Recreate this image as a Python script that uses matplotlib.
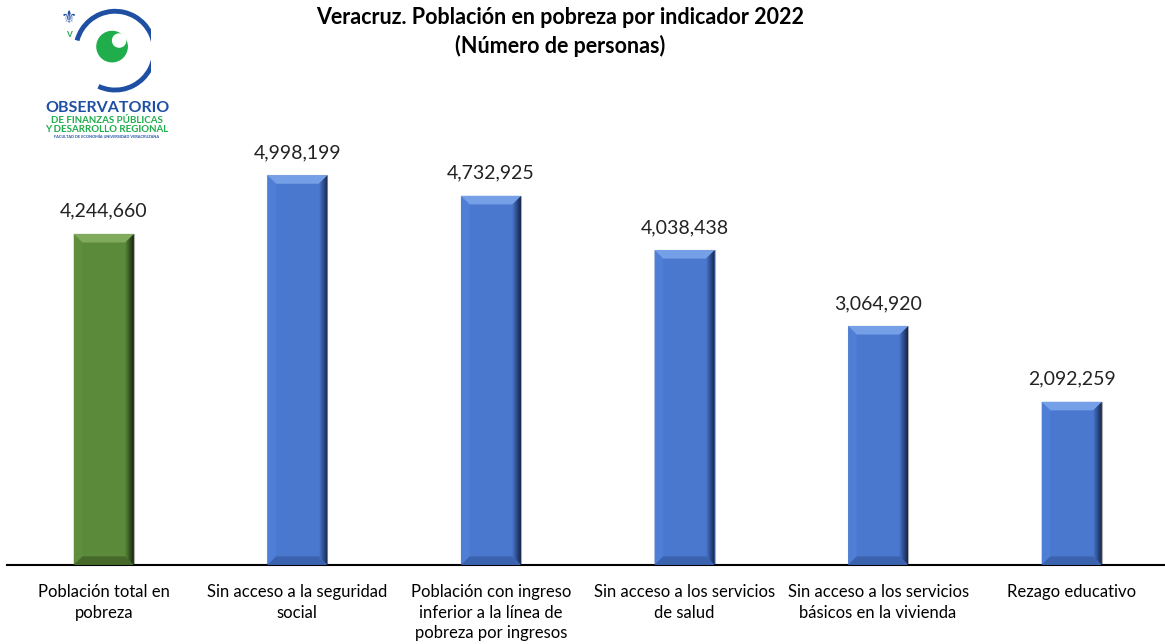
import numpy as np
import matplotlib.pyplot as plt
from matplotlib.patches import Polygon, Arc, Circle
from matplotlib.colors import LinearSegmentedColormap

plt.rcParams['font.family'] = ['Lato', 'DejaVu Sans']

categorias = ["Población total en\npobreza",
              "Sin acceso a la seguridad\nsocial",
              "Población con ingreso\ninferior a la línea de\npobreza por ingresos",
              "Sin acceso a los servicios\nde salud",
              "Sin acceso a los servicios\nbásicos en la vivienda",
              "Rezago educativo"]
valores = [4244660, 4998199, 4732925, 4038438, 3064920, 2092259]
colores = ["green", "blue", "blue", "blue", "blue", "blue"]

paleta = {
    "green": {"main": "#5b8a3a", "top": "#80aa5c", "left": "#5f8f3d", "right": "#16240c", "bottom": "#44692a"},
    "blue": {"main": "#4a78cf", "top": "#75a0e8", "left": "#4f7ed6", "right": "#15244a", "bottom": "#3a62ae"},
}

fig = plt.figure(figsize=(11.65, 6.44), dpi=100)
ax = fig.add_axes([0.006, 0.1227, 0.997, 0.7267])

x = np.arange(len(valores))
w = 0.31
bx = 0.045     # bevel width in data units
by = 110000    # bevel height in data units
grad = np.linspace(0, 1, 64).reshape(1, -1)

for xi, v, c in zip(x, valores, colores):
    p = paleta[c]
    l, r = xi - w / 2, xi + w / 2
    ax.bar(xi, v, width=w, color=p["main"], edgecolor="#b0b0b0", linewidth=0.8, zorder=2)
    ax.add_patch(Polygon([(l, 0), (l, v), (l + bx, v - by), (l + bx, by)], closed=True,
                         facecolor=p["left"], edgecolor="none", zorder=3))
    # right face with gradient to dark
    rf = Polygon([(r, 0), (r, v), (r - bx, v - by), (r - bx, by)], closed=True,
                 facecolor="none", edgecolor="none", zorder=3)
    ax.add_patch(rf)
    cm = LinearSegmentedColormap.from_list("g", [p["main"], p["right"]])
    im = ax.imshow(grad, cmap=cm, extent=[r - bx, r, 0, v], aspect="auto", zorder=3)
    im.set_clip_path(rf)
    ax.add_patch(Polygon([(l, 0), (r, 0), (r - bx, by), (l + bx, by)], closed=True,
                         facecolor=p["bottom"], edgecolor="none", zorder=4))
    ax.add_patch(Polygon([(l, v), (r, v), (r - bx, v - by), (l + bx, v - by)], closed=True,
                         facecolor=p["top"], edgecolor="none", zorder=4))
    ax.text(xi, v + 180000, f"{v:,}", ha="center", va="bottom", fontsize=14, color="#222222")

ax.set_xlim(-0.5, len(valores) - 0.5)
ax.set_ylim(0, 6000000)
ax.set_xticks(x)
ax.set_xticklabels(categorias, fontsize=12, linespacing=1.33)
ax.tick_params(axis="x", length=0, pad=14)
ax.set_yticks([])
for s in ["top", "right", "left"]:
    ax.spines[s].set_visible(False)
ax.spines["bottom"].set_linewidth(1.5)
ax.spines["bottom"].set_color("black")

fig.text(0.481, 0.973, "Veracruz. Población en pobreza por indicador 2022", ha="center", va="center",
         fontsize=15.5, fontweight="bold")
fig.text(0.481, 0.928, "(Número de personas)", ha="center", va="center",
         fontsize=15.5, fontweight="bold")

# logo
lg = fig.add_axes([0.0, 0.78, 0.13, 0.22])
lg.set_xlim(0, 150)
lg.set_ylim(140, 0)
lg.set_aspect("equal")
lg.axis("off")
lg.add_patch(Arc((114, 50), 78, 78, theta1=-165, theta2=115, color="#1f4fa3", linewidth=3.5))
lg.add_patch(Circle((111, 46), 15, color="#1fae4b"))
lg.add_patch(Circle((118, 40), 6.5, color="white"))
lg.text(68, 18, "⚜", ha="center", va="center", fontsize=13, color="#1f4fa3", family="DejaVu Sans")
lg.text(68, 34, "V", ha="center", va="center", fontsize=6, fontweight="bold", color="#1fae4b")
lg.text(106, 107, "OBSERVATORIO", ha="center", va="center", fontsize=11.5, fontweight="bold", color="#1f4fa3")
lg.text(106, 119, "DE FINANZAS PÚBLICAS", ha="center", va="center", fontsize=7, fontweight="bold", color="#1fae4b")
lg.text(106, 128, "Y DESARROLLO REGIONAL", ha="center", va="center", fontsize=7, fontweight="bold", color="#1fae4b")
lg.text(106, 136, "FACULTAD DE ECONOMÍA UNIVERSIDAD VERACRUZANA", ha="center", va="center", fontsize=2.8,
        fontweight="bold", color="#1f4fa3")

fig.savefig("out.png", dpi=100)
